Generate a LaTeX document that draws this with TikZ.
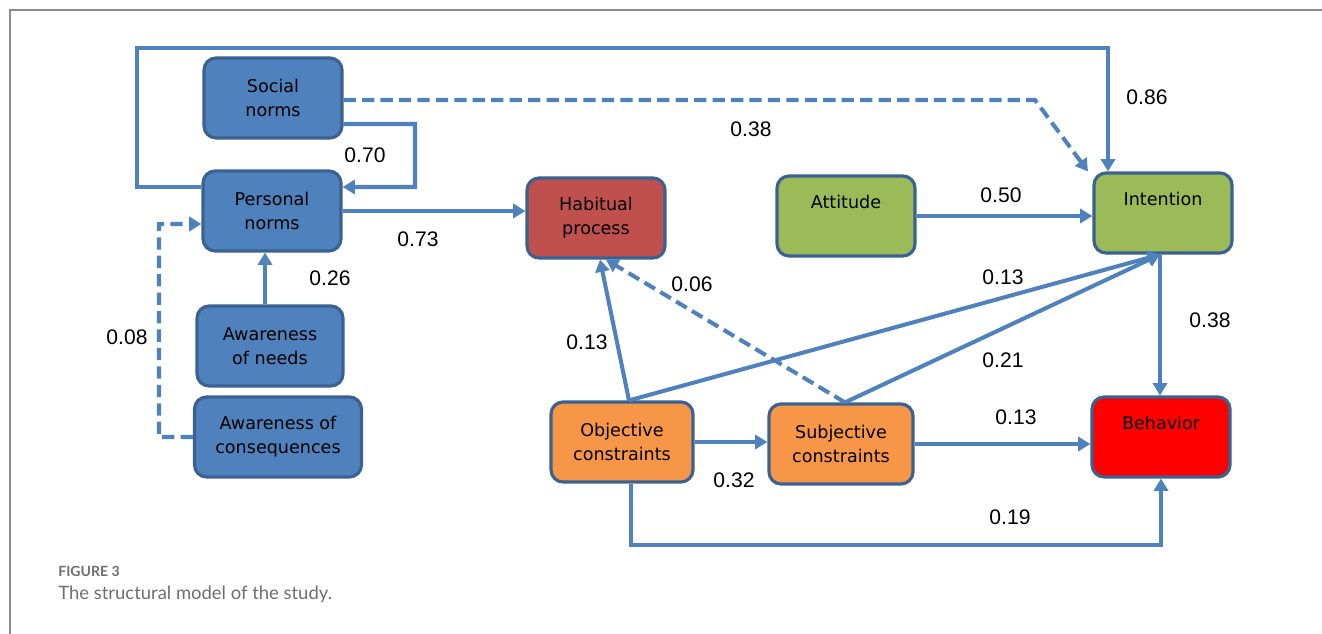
\documentclass[tikz,border=0pt]{standalone}
\usepackage{fontspec}
\setmainfont{Liberation Sans}
\newfontfamily\boxfont{DejaVu Sans}
\newfontfamily\capfont{Lato}
\usetikzlibrary{arrows.meta}
\definecolor{normblue}{HTML}{4F81BD}
\definecolor{edgeblue}{HTML}{3A6192}
\definecolor{habred}{HTML}{C0504D}
\definecolor{attgreen}{HTML}{9BBB59}
\definecolor{conorange}{HTML}{F79646}
\definecolor{behred}{HTML}{FF0000}
\definecolor{capgray}{HTML}{6E6E6E}

\begin{document}
\begin{tikzpicture}[x=0.02cm, y=-0.02cm,
  box/.style={draw=edgeblue, line width=1.8pt, rounded corners=0.24cm,
    minimum width=2.76cm, minimum height=1.6cm, align=center,
    font=\boxfont\fontsize{10}{13.6}\selectfont},
  uptext/.style={text height=0.3cm, text depth=0.58cm},
  link/.style={normblue, line width=2.3pt, -{Triangle[length=7pt,width=8pt]}},
  dashlink/.style={link, dash pattern=on 7pt off 3.5pt},
  weight/.style={font=\fontsize{12}{14}\selectfont}]
\useasboundingbox (0,0) rectangle (1322,634);
\draw[capgray!80, line width=1.1pt] (10,634) -- (10,10) -- (1322,10);

% boxes
\node[box, fill=normblue] (soc) at (273,98) {Social\\norms};
\node[box, fill=normblue] (pers) at (272,211) {Personal\\norms};
\node[box, fill=normblue, minimum width=2.92cm] (needs) at (270,346) {Awareness\\of needs};
\node[box, fill=normblue, minimum width=3.34cm] (cons) at (278,437) {Awareness of\\consequences};
\node[box, fill=habred] (hab) at (596,218) {Habitual\\process};
\node[box, fill=attgreen, uptext] (att) at (846,216) {Attitude};
\node[box, fill=attgreen, uptext] (intn) at (1163,213) {Intention};
\node[box, fill=behred, uptext] (beh) at (1161,437) {Behavior};
\node[box, fill=conorange, minimum width=2.84cm] (obj) at (622,442) {Objective\\constraints};
\node[box, fill=conorange, minimum width=2.88cm] (subj) at (841,444) {Subjective\\constraints};

% paths
\draw[link] ([yshift=0.48cm]pers.west) -| (137,48) -| ([xshift=-1.1cm]intn.north);
\draw[dashlink] ([yshift=-0.04cm]soc.east) -- (1035,100) -- ([xshift=-1.5cm]intn.north);
\draw[link] ([yshift=-0.52cm]soc.east) -| (415,187) -- ([yshift=0.48cm]pers.east);
\draw[link] (pers.east) -- (pers.east -| hab.west);
\draw[link] ([xshift=-0.1cm]needs.north) -- ([xshift=-0.1cm]needs.north |- pers.south);
\draw[dashlink] (cons.west) -| (159,224) -- ([yshift=-0.26cm]pers.west);
\draw[link] ([xshift=0.14cm]obj.north) -- ([xshift=0.08cm]hab.south);
\draw[dashlink] ([xshift=0.08cm]subj.north) -- ([xshift=0.2cm]hab.south);
\draw[link] ([xshift=0.14cm]obj.north) -- ([xshift=-0.06cm]intn.south);
\draw[link] ([xshift=0.08cm]subj.north) -- ([xshift=-0.06cm]intn.south);
\draw[link] ([xshift=-0.06cm]intn.south) -- ([xshift=-0.06cm]intn.south |- beh.north);
\draw[link] (att.east) -- (att.east -| intn.west);
\draw[link] (obj.east) -- (obj.east -| subj.west);
\draw[link] (subj.east) -- (subj.east -| beh.west);
\draw[link] ([xshift=0.18cm]obj.south) -- ++(0,61) -| (beh.south);

% weights
\node[weight] (w86) at (1147,97) {0.86};
\node[weight] (w38a) at (751,129) {0.38};
\node[weight] (w70) at (365,155) {0.70};
\node[weight] (w73) at (418,239) {0.73};
\node[weight] (w26) at (330,278) {0.26};
\node[weight] (w08) at (127,337) {0.08};
\node[weight] (w13a) at (587,342) {0.13};
\node[weight] (w06) at (692,284) {0.06};
\node[weight] (w50) at (1001,195) {0.50};
\node[weight] (w13b) at (1003,277) {0.13};
\node[weight] (w21) at (1003,360) {0.21};
\node[weight] (w38b) at (1210,320) {0.38};
\node[weight] (w32) at (734,480) {0.32};
\node[weight] (w13c) at (1016,417) {0.13};
\node[weight] (w19) at (1010,517) {0.19};

% caption
\node[anchor=west, inner sep=0pt, text=capgray, font=\capfont\bfseries\fontsize{8}{10}\selectfont] (fig) at (58,571) {FIGURE 3};
\node[anchor=west, inner sep=0pt, text=capgray, font=\capfont\fontsize{10.5}{12}\selectfont] (cap) at (58,594) {The structural model of the study.};
\end{tikzpicture}
\end{document}
